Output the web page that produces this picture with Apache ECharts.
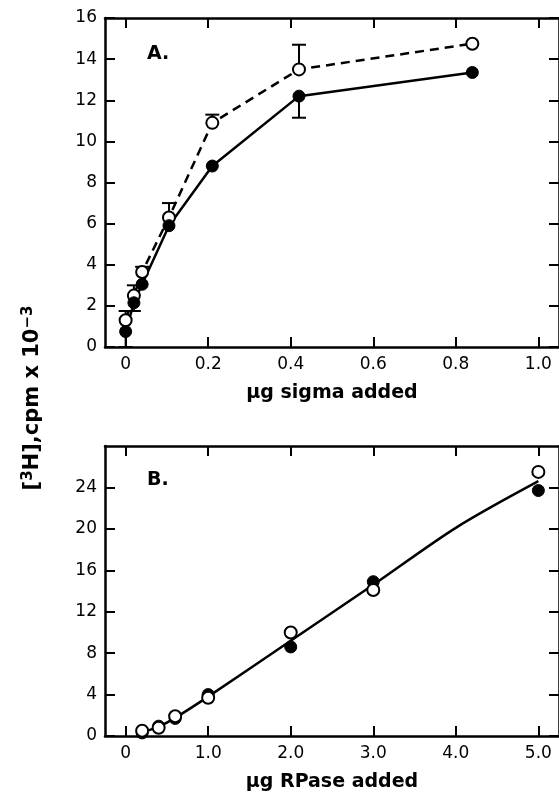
<!DOCTYPE html>
<html>
<head>
<meta charset="utf-8">
<script src="https://cdn.jsdelivr.net/npm/echarts@6/dist/echarts.min.js"></script>
<style>
  html, body { margin: 0; padding: 0; background: #fff; }
  #chart { width: 559px; height: 796px; }
</style>
</head>
<body>
<div id="chart"></div>
<script>
// panel A: sigma added
const sigmaX = [0, 0.02, 0.04, 0.105, 0.21, 0.42, 0.84];
const sigmaOpen = [1.3, 2.5, 3.65, 6.3, 10.9, 13.5, 14.75];
const sigmaFilled = [0.75, 2.15, 3.05, 5.9, 8.8, 12.2, 13.35];
// error bars: [x, from, to]
const sigmaErr = [
  [0, 1.3, 1.75], [0, 0.75, 0],
  [0.02, 2.5, 3.0], [0.02, 2.15, 1.75],
  [0.04, 3.65, 3.9],
  [0.105, 6.3, 7.0],
  [0.21, 10.9, 11.3],
  [0.42, 13.5, 14.7], [0.42, 12.2, 11.15]
];
const sigmaTicksX = [0, 0.2, 0.4, 0.6, 0.8, 1.0];
const sigmaTicksY = [0, 2, 4, 6, 8, 10, 12, 14, 16];

// panel B: RPase added
const rpaseX = [0.2, 0.4, 0.6, 1.0, 2.0, 3.0, 5.0];
const rpaseOpen = [0.5, 0.8, 1.9, 3.7, 10.0, 14.1, 25.5];
const rpaseFilled = [0.3, 0.95, 1.7, 4.0, 8.6, 14.9, 23.7];
const fitX = [0.2, 0.4, 0.6, 1.0, 2.0, 3.0, 4.0, 5.0];
const fitY = [0.35, 0.9, 1.75, 3.8, 9.2, 14.6, 20.1, 24.6];
const rpaseTicksX = [0, 1, 2, 3, 4, 5];
const rpaseTicksY = [0, 4, 8, 12, 16, 20, 24];

const zip = (xs, ys) => xs.map((x, i) => [x, ys[i]]);
const fmt = v => (v === 0 ? '0' : v.toFixed(1));

const chart = echarts.init(document.getElementById('chart'));

const font = 'DejaVu Sans';
const lineW = 2.5;

function xAxis(grid, min, max, ticks, bottom, name) {
  return {
    type: 'value', gridIndex: grid, min: min, max: max,
    position: bottom ? 'bottom' : 'top',
    splitLine: { show: false },
    axisLine: { onZero: false, lineStyle: { color: '#000', width: lineW } },
    axisTick: { inside: true, length: 10, lineStyle: { color: '#000', width: 2 }, customValues: ticks },
    axisLabel: {
      show: bottom, customValues: ticks, formatter: fmt, margin: 9,
      color: '#000', fontFamily: font, fontSize: 17
    },
    name: bottom ? name : '',
    nameLocation: 'middle', nameGap: 37,
    nameTextStyle: { color: '#000', fontFamily: font, fontSize: 19, fontWeight: 'bold' }
  };
}
function yAxis(grid, min, max, ticks, left) {
  return {
    type: 'value', gridIndex: grid, min: min, max: max,
    position: left ? 'left' : 'right',
    splitLine: { show: false },
    axisLine: { onZero: false, lineStyle: { color: '#000', width: lineW } },
    axisTick: { inside: true, length: 10, lineStyle: { color: '#000', width: 2 }, customValues: ticks },
    axisLabel: {
      show: left, customValues: ticks, margin: 8,
      color: '#000', fontFamily: font, fontSize: 17
    }
  };
}

const openStyle = { color: '#fff', borderColor: '#000', borderWidth: 2, opacity: 1 };
const filledStyle = { color: '#000', borderColor: '#000', borderWidth: 1, opacity: 1 };

const option = {
  animation: false,
  backgroundColor: '#fff',
  grid: [
    { left: 105, top: 18, width: 455, height: 329 },
    { left: 105, top: 446, width: 455, height: 290 }
  ],
  xAxis: [
    xAxis(0, -0.05, 1.05, sigmaTicksX, true, 'μg sigma added'),
    xAxis(0, -0.05, 1.05, sigmaTicksX, false),
    xAxis(1, -0.25, 5.25, rpaseTicksX, true, 'μg RPase added'),
    xAxis(1, -0.25, 5.25, rpaseTicksX, false)
  ],
  yAxis: [
    yAxis(0, 0, 16, sigmaTicksY, true),
    yAxis(0, 0, 16, sigmaTicksY, false),
    yAxis(1, 0, 28, rpaseTicksY, true),
    yAxis(1, 0, 28, rpaseTicksY, false)
  ],
  graphic: [
    {
      type: 'text', x: 33, y: 398, rotation: Math.PI / 2,
      style: {
        text: '[{sup|3}H],cpm x 10{sup|−3}',
        fill: '#000', font: 'bold 21px "DejaVu Sans"',
        align: 'center', verticalAlign: 'middle',
        rich: {
          sup: { font: 'bold 15px "DejaVu Sans"', fill: '#000', verticalAlign: 'top', padding: [0, 0, 10, 0] }
        }
      }
    },
    { type: 'text', left: 147, top: 45, style: { text: 'A.', fill: '#000', font: 'bold 19px "DejaVu Sans"' } },
    { type: 'text', left: 147, top: 471, style: { text: 'B.', fill: '#000', font: 'bold 19px "DejaVu Sans"' } }
  ],
  series: [
    {
      type: 'custom', xAxisIndex: 0, yAxisIndex: 0, z: 1,
      data: sigmaErr,
      renderItem: function (params, api) {
        const p1 = api.coord([api.value(0), api.value(1)]);
        const p2 = api.coord([api.value(0), api.value(2)]);
        const cap = 7;
        return {
          type: 'group',
          children: [
            { type: 'line', shape: { x1: p1[0], y1: p1[1], x2: p2[0], y2: p2[1] }, style: { stroke: '#000', lineWidth: 2 } },
            { type: 'line', shape: { x1: p2[0] - cap, y1: p2[1], x2: p2[0] + cap, y2: p2[1] }, style: { stroke: '#000', lineWidth: 2 } }
          ]
        };
      }
    },
    {
      type: 'line', xAxisIndex: 0, yAxisIndex: 0, z: 3,
      data: zip(sigmaX, sigmaOpen),
      symbol: 'circle', symbolSize: 12, itemStyle: openStyle,
      lineStyle: { color: '#000', width: lineW, type: [9, 6] }
    },
    {
      type: 'line', xAxisIndex: 0, yAxisIndex: 0, z: 3,
      data: zip(sigmaX, sigmaFilled),
      symbol: 'circle', symbolSize: 12, itemStyle: filledStyle,
      lineStyle: { color: '#000', width: lineW }
    },
    {
      type: 'line', xAxisIndex: 2, yAxisIndex: 2, z: 2,
      data: zip(fitX, fitY), smooth: 0.3, symbol: 'none',
      lineStyle: { color: '#000', width: lineW }
    },
    {
      type: 'scatter', xAxisIndex: 2, yAxisIndex: 2, z: 3,
      data: zip(rpaseX, rpaseFilled),
      symbol: 'circle', symbolSize: 12, itemStyle: filledStyle
    },
    {
      type: 'scatter', xAxisIndex: 2, yAxisIndex: 2, z: 4,
      data: zip(rpaseX, rpaseOpen),
      symbol: 'circle', symbolSize: 12, itemStyle: openStyle
    }
  ]
};

chart.setOption(option);
</script>
</body>
</html>
